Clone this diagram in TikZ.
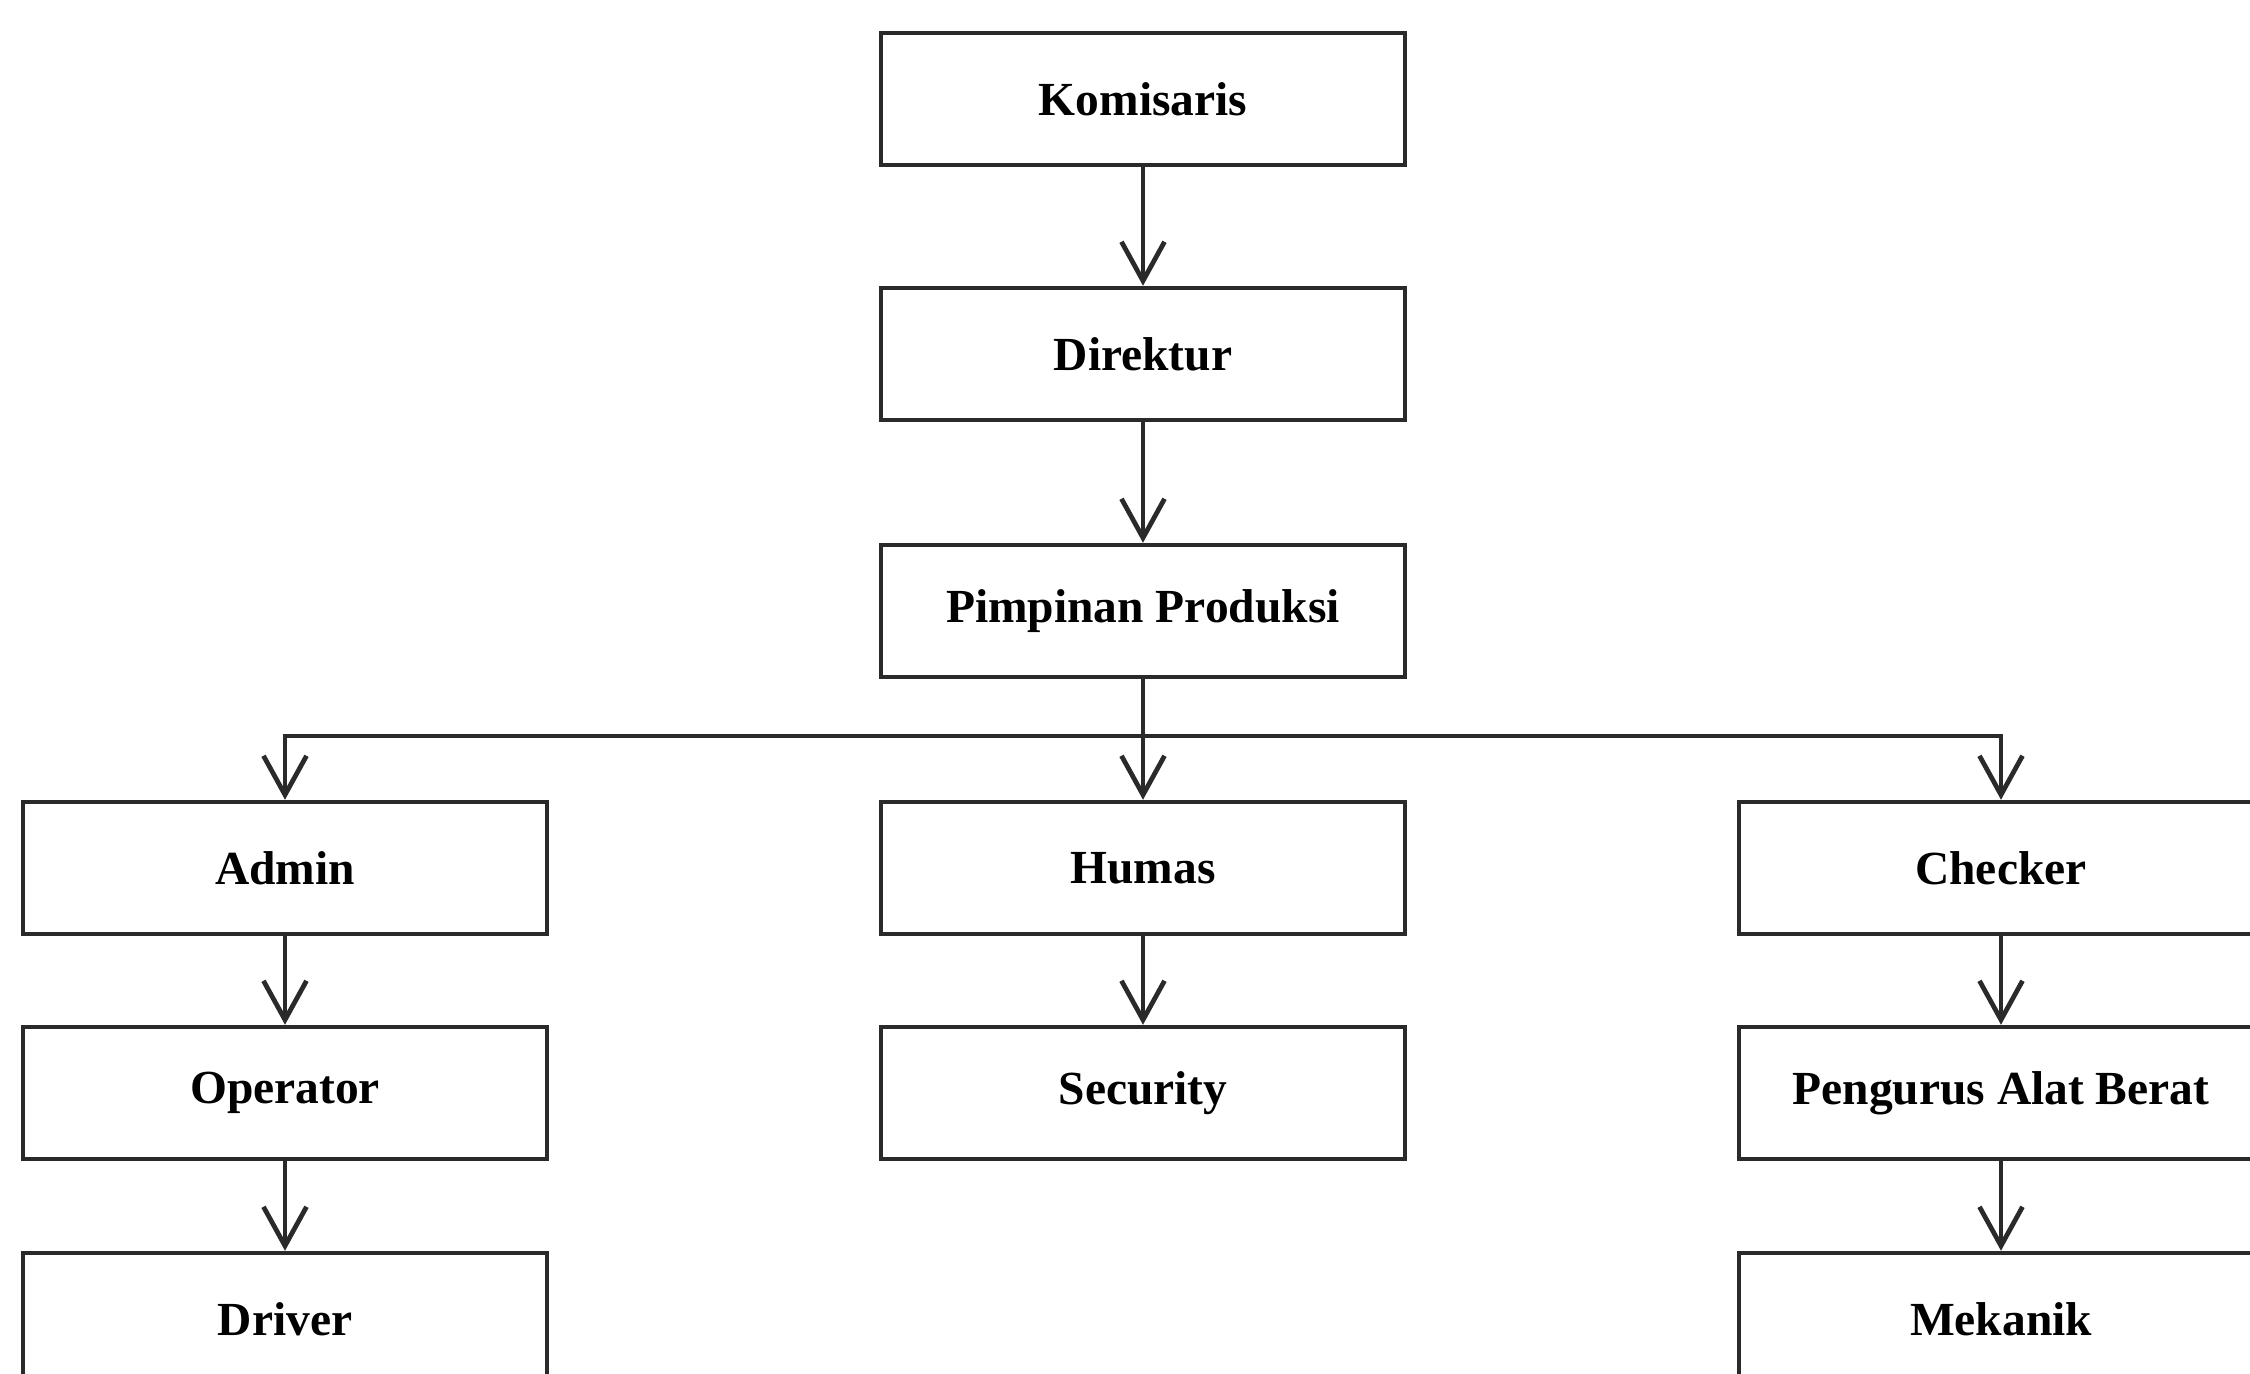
\documentclass[tikz,border=0pt]{standalone}
\usepackage{fontspec}
\setmainfont{Liberation Serif}
\usetikzlibrary{arrows.meta}
\definecolor{ln}{HTML}{2A2A2A}
\begin{document}
\begin{tikzpicture}[x=0.01cm,y=-0.01cm,
  box/.style={draw=ln,line width=1.25pt,minimum width=5.24cm,minimum height=1.32cm,inner sep=0pt,
    font=\fontsize{13.5}{16}\selectfont\bfseries,text=black},
  arr/.style={draw=ln,line width=1.35pt,-{Straight Barb[length=3.9mm,width=4.3mm,line width=1.35pt]}}]
\useasboundingbox[fill=white] (0,0) rectangle (2250,1374);
\node[box] (kom) at (1143,99) {Komisaris};
\node[box] (dir) at (1143,354) {Direktur};
\node[box] (pim) at (1143,611) {Pimpinan Produksi};
\node[box] (adm) at (285,868) {Admin};
\node[box] (hum) at (1143,868) {Humas};
\node[box] (chk) at (2001,868) {Checker};
\node[box] (opr) at (285,1093) {Operator};
\node[box] (sec) at (1143,1093) {Security};
\node[box] (pab) at (2001,1093) {Pengurus Alat Berat};
\node[box] (drv) at (285,1319) {Driver};
\node[box] (mek) at (2001,1319) {Mekanik};
\coordinate (bus) at (1143,736);
\draw[arr] (kom) -- (dir);
\draw[arr] (dir) -- (pim);
\draw[arr] (pim) -- (hum);
\draw[arr] (bus) -| (adm.north);
\draw[arr] (bus) -| (chk.north);
\draw[arr] (adm) -- (opr);
\draw[arr] (opr) -- (drv);
\draw[arr] (hum) -- (sec);
\draw[arr] (chk) -- (pab);
\draw[arr] (pab) -- (mek);
\end{tikzpicture}
\end{document}
